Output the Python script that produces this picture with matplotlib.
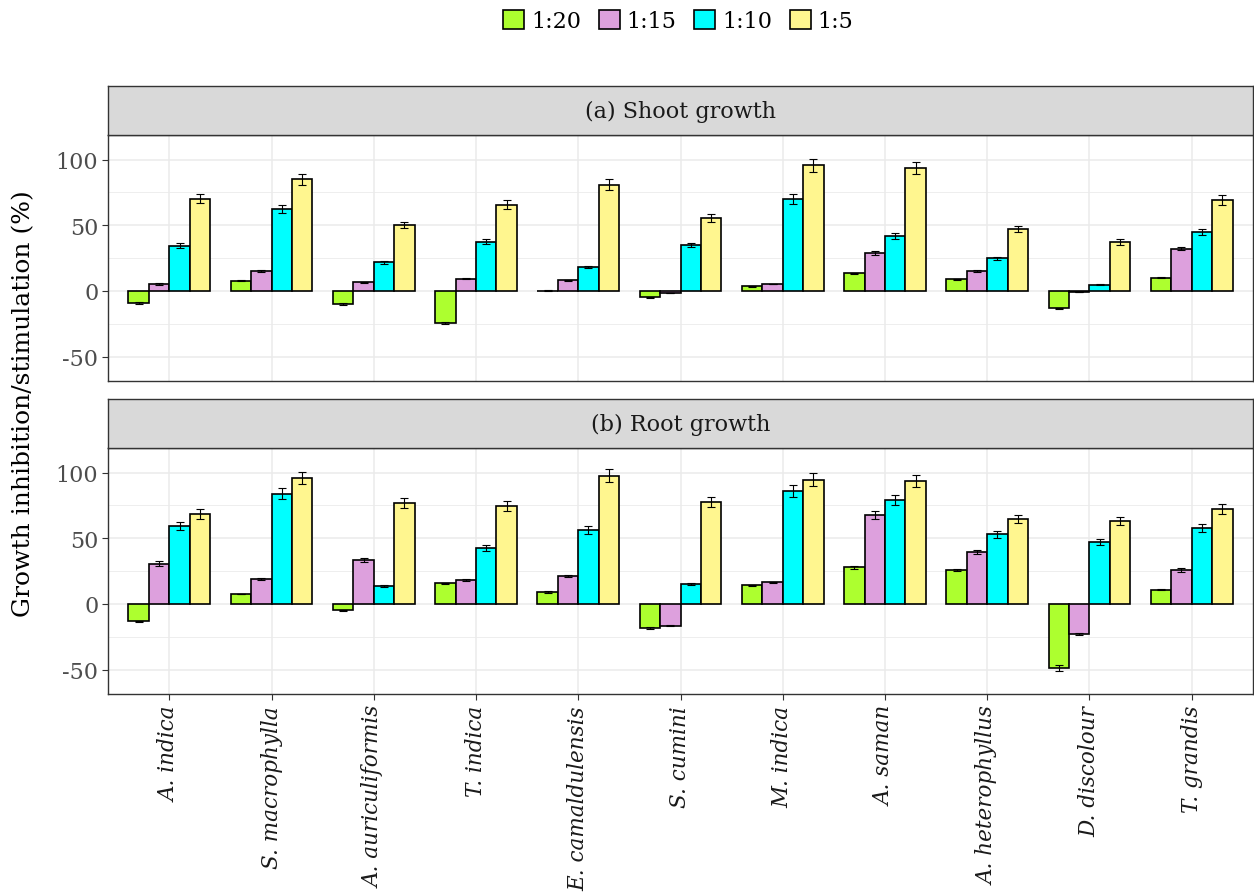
import numpy as np
import matplotlib
matplotlib.use('Agg')
import matplotlib.pyplot as plt
from matplotlib.patches import Patch

plt.rcParams['font.family'] = ['DejaVu Serif']

species = ['A. indica', 'S. macrophylla', 'A. auriculiformis', 'T. indica',
           'E. camaldulensis', 'S. cumini', 'M. indica', 'A. saman',
           'A. heterophyllus', 'D. discolour', 'T. grandis']
ratios = ['1:20', '1:15', '1:10', '1:5']
colors = ['#ADFF2F', '#DDA0DD', '#00FFFF', '#FFF68F']

# shoot growth, one row per ratio
shoot = [
    [-9.0, 7.9, -9.9, -24.6, 0.3, -4.8, 3.6, 13.5, 8.9, -13.2, 10.2],
    [5.3, 15.2, 6.6, 9.4, 8.1, -1.5, 5.3, 28.7, 15.2, -0.8, 32.2],
    [34.5, 62.4, 21.8, 37.3, 18.5, 35.0, 70.0, 41.6, 24.9, 4.6, 44.9],
    [70.3, 85.0, 50.3, 65.7, 81.0, 55.6, 95.7, 93.9, 47.2, 37.3, 69.3],
]
shoot_se = [
    [0.6, 0.5, 0.5, 0.8, 0.2, 0.4, 0.3, 0.5, 0.4, 0.6, 0.5],
    [0.4, 0.6, 0.4, 0.5, 0.4, 0.3, 0.3, 1.5, 0.5, 0.3, 1.3],
    [1.8, 3.3, 1.0, 1.9, 0.8, 1.8, 3.7, 2.2, 1.2, 0.4, 2.2],
    [3.5, 4.4, 2.5, 3.4, 4.0, 2.9, 5.0, 4.5, 2.3, 2.0, 3.6],
]

# root growth
root = [
    [-13.2, 7.6, -4.8, 15.7, 9.1, -18.3, 14.2, 27.9, 25.6, -48.5, 10.9],
    [30.5, 19.3, 33.5, 18.0, 21.0, -16.5, 16.5, 67.8, 39.6, -22.6, 25.9],
    [59.4, 83.8, 13.7, 42.6, 56.3, 15.5, 85.8, 78.9, 53.0, 47.0, 58.1],
    [68.3, 95.9, 76.6, 74.6, 97.5, 77.7, 94.7, 93.4, 64.7, 63.2, 72.3],
]
root_se = [
    [0.5, 0.3, 0.3, 0.6, 0.5, 0.6, 0.5, 1.0, 0.8, 2.3, 0.4],
    [1.9, 0.8, 1.8, 0.8, 0.8, 0.6, 0.6, 3.3, 1.8, 0.8, 1.4],
    [3.2, 4.2, 0.7, 2.3, 3.0, 0.7, 4.5, 3.9, 2.8, 2.3, 3.0],
    [3.7, 4.8, 3.9, 3.9, 5.0, 4.0, 4.8, 4.6, 3.3, 3.3, 3.8],
]

W, H = 1254, 895
fig = plt.figure(figsize=(W / 100, H / 100), dpi=100)

x = np.arange(1, len(species) + 1)
bw = 0.2
offsets = (np.arange(4) - 1.5) * bw

FS = 16
GRID = '#EBEBEB'


def panel(top_px, vals, errs, title, show_x):
    left_px, right_px = 108, 1253
    bot_px = top_px + 246
    ax = fig.add_axes([left_px / W, 1 - bot_px / H,
                       (right_px - left_px) / W, 246 / H])
    for i in range(4):
        ax.bar(x + offsets[i], vals[i], width=bw, color=colors[i],
               edgecolor='black', linewidth=1.2, zorder=3)
        ax.errorbar(x + offsets[i], vals[i], yerr=errs[i], fmt='none',
                    ecolor='black', elinewidth=0.8, capsize=3,
                    capthick=0.8, zorder=4)
    ax.set_xlim(0.4, 11.6)
    ax.set_ylim(-68.5, 118.7)
    ax.set_yticks([-50, 0, 50, 100])
    ax.set_yticklabels(['-50', '0', '50', '100'])
    ax.set_yticks([-25, 25, 75], minor=True)
    ax.set_xticks(x)
    ax.grid(True, which='major', color=GRID, linewidth=1.1, zorder=0)
    ax.grid(True, which='minor', axis='y', color=GRID, linewidth=0.6, zorder=0)
    ax.set_axisbelow(True)
    for s in ax.spines.values():
        s.set_color('#333333')
        s.set_linewidth(1.0)
    ax.tick_params(axis='y', which='major', length=4, color='#333333',
                   labelsize=FS, labelcolor='#4D4D4D', pad=3)
    ax.tick_params(axis='y', which='minor', length=0)
    if show_x:
        ax.set_xticklabels(species, rotation=90, style='italic',
                           fontsize=15.5, color='#1A1A1A')
        ax.tick_params(axis='x', length=4, color='#333333', pad=4)
    else:
        ax.tick_params(axis='x', length=0, labelbottom=False)

    # facet strip
    st = fig.add_axes([left_px / W, 1 - top_px / H,
                       (right_px - left_px) / W, 49 / H])
    st.set_facecolor('#D9D9D9')
    st.set_xticks([])
    st.set_yticks([])
    for s in st.spines.values():
        s.set_color('#333333')
        s.set_linewidth(1.0)
    st.text(0.5, 0.5, title, ha='center', va='center', fontsize=FS,
            color='#1A1A1A', transform=st.transAxes)
    return ax


panel(136, shoot, shoot_se, '(a) Shoot growth', False)
panel(449, root, root_se, '(b) Root growth', True)

fig.text(24 / W, 1 - 404 / H, 'Growth inhibition/stimulation (%)',
         rotation=90, ha='center', va='center', fontsize=18)

handles = [Patch(facecolor=c, edgecolor='black', linewidth=1.2) for c in colors]
fig.legend(handles, ratios, loc='center', bbox_to_anchor=(0.541, 1 - 22 / H),
           ncol=4, frameon=False, fontsize=FS, handlelength=0.95,
           handleheight=0.95, handletextpad=0.3, columnspacing=0.8)

fig.savefig('out.png', dpi=100)
